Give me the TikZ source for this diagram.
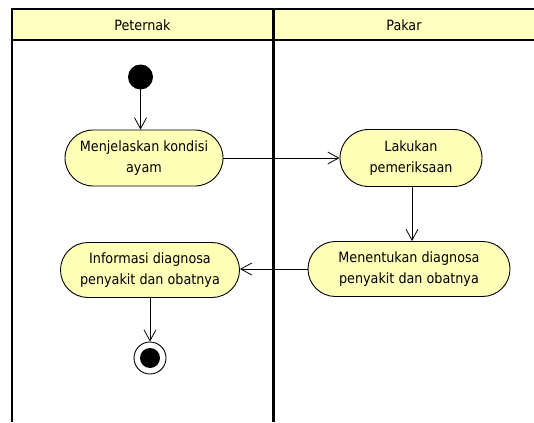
\documentclass[tikz,border=0pt]{standalone}
\usepackage{fontspec}
\setmainfont{DejaVu Sans Condensed}
\usetikzlibrary{arrows.meta,shapes.misc}
\definecolor{laneyellow}{RGB}{255,255,192}
\definecolor{actyellow}{RGB}{255,255,184}
\tikzset{
	lane/.style={line width=2.6pt},
	activity/.style={rounded rectangle,draw,line width=0.9pt,fill=actyellow,align=center,
		font=\fontsize{14.2}{21}\selectfont,inner sep=0pt},
	flow/.style={-{Straight Barb[length=11pt,width=12pt]},line width=0.8pt}
}
\begin{document}
\begin{tikzpicture}[x=1pt,y=-1pt,line width=0.8pt]
		\useasboundingbox (0,0) rectangle (534,422);
		% swimlanes
		\fill[laneyellow] (12,9) rectangle (534,40);
		\draw[lane] (534,9) -- (12,9) -- (12,422);
		\draw[lane] (12,40) -- (534,40);
		\draw[lane] (273.5,9) -- (273.5,422);
		\node[font=\fontsize{14.2}{16}\selectfont] (peternak) at (142.5,25) {Peternak};
		\node[font=\fontsize{14.2}{16}\selectfont] (pakar) at (404,25) {Pakar};
		% nodes
		\fill (140.5,77) circle (12.5);
		\coordinate (start) at (140.5,89.5);
		\node[activity,minimum width=158pt,minimum height=56pt] (kondisi) at (144,158) {Menjelaskan kondisi\\ayam};
		\node[activity,minimum width=142pt,minimum height=57pt] (periksa) at (411,158) {Lakukan\\pemeriksaan};
		\node[activity,minimum width=202pt,minimum height=55pt] (tentukan) at (409,269) {Menentukan diagnosa\\penyakit dan obatnya};
		\node[activity,minimum width=179pt,minimum height=55pt] (informasi) at (150,270) {Informasi diagnosa\\penyakit dan obatnya};
		\node[circle,draw,line width=0.9pt,minimum size=32pt,inner sep=0pt] (akhir) at (150,358) {};
		\fill (akhir) circle (10);
		% flows
		\draw[flow] (start) -- (start |- kondisi.north);
		\draw[flow] (kondisi.east) -- (periksa.west);
		\draw[flow] (periksa.south -| 412,0) -- (tentukan.north -| 412,0);
		\draw[flow] (tentukan.west) -- (tentukan.west -| informasi.east);
		\draw[flow] (informasi.south) -- (akhir.north);
		\end{tikzpicture}
\end{document}
